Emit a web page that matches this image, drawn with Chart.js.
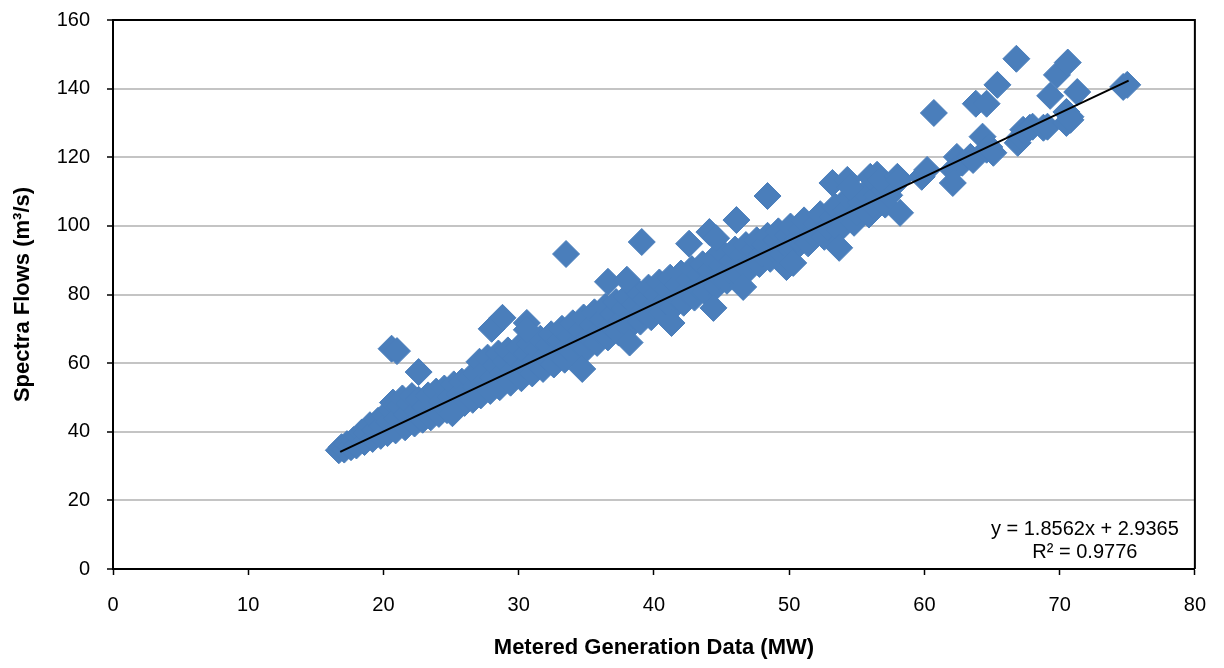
<!DOCTYPE html>
<html>
<head>
<meta charset="utf-8">
<title>Spectra Flows vs Metered Generation</title>
<script src="https://cdn.jsdelivr.net/npm/chart.js@4.4.1/dist/chart.umd.min.js"></script>
<style>
    body { margin: 0; background: #fff; }
    #wrap { width: 1224px; height: 668px; }
</style>
</head>
<body>
<div id="wrap"><canvas id="flowChart" width="1224" height="668"></canvas></div>
<script>
// Main cloud of readings (MW, m3/s)
const bandMW = [
    16.7, 16.9, 17.1, 17.3, 17.6, 17.8, 18.0, 18.2, 18.4, 18.6, 18.8, 19.0, 19.2, 19.4, 19.6, 19.8, 19.9, 20.1,
    20.3, 20.4, 20.6, 20.7, 20.9, 21.0, 21.2, 21.4, 21.6, 21.7, 21.9, 22.1, 22.3, 22.5, 22.6, 22.9, 23.1, 23.3,
    23.5, 23.7, 23.9, 24.1, 24.3, 24.5, 24.7, 24.9, 25.2, 25.4, 25.6, 25.8, 26.0, 26.2, 26.4, 26.6, 26.8, 26.9,
    27.1, 27.2, 27.4, 27.6, 27.7, 27.9, 28.1, 28.3, 28.5, 28.6, 28.8, 29.0, 29.2, 29.4, 29.6, 29.8, 30.0, 30.2,
    30.4, 30.6, 30.8, 31.0, 31.2, 31.4, 31.6, 31.8, 32.0, 32.2, 32.4, 32.6, 32.8, 33.0, 33.2, 33.4, 33.6, 33.8,
    34.0, 34.2, 34.4, 34.6, 34.8, 35.0, 35.2, 35.4, 35.6, 35.8, 36.0, 36.2, 36.4, 36.6, 36.8, 37.0, 37.2, 37.4,
    37.6, 37.8, 38.0, 38.2, 38.4, 38.6, 38.8, 39.0, 39.2, 39.4, 39.6, 39.8, 40.0, 40.2, 40.4, 40.6, 40.8, 41.0,
    41.2, 41.4, 41.6, 41.8, 42.0, 42.2, 42.4, 42.6, 42.8, 43.0, 43.2, 43.4, 43.6, 43.8, 44.0, 44.2, 44.4, 44.6,
    44.8, 45.0, 45.2, 45.4, 45.6, 45.8, 46.0, 46.2, 46.4, 46.6, 46.8, 47.0, 47.2, 47.4, 47.6, 47.8, 48.0, 48.2,
    48.4, 48.6, 48.8, 49.0, 49.2, 49.5, 49.7, 49.9, 50.1, 50.4, 50.6, 50.9, 51.1, 51.4, 51.7, 52.0, 52.3, 52.6,
    52.9, 53.2, 53.4, 53.7, 54.0, 54.2, 54.4, 54.8, 55.0, 55.3, 55.6, 55.9, 56.2, 56.5, 56.8, 57.1, 57.4, 57.7
];
const bandFlow = [
    34.6, 35.5, 34.8, 36.4, 35.5, 37.6, 36.0, 38.5, 39.8, 37.0, 39.6, 41.9, 37.9, 40.5, 43.2, 38.8, 41.6, 44.8,
    39.6, 42.8, 46.3, 48.5, 40.4, 44.1, 47.5, 49.7, 41.3, 45.0, 48.2, 50.4, 42.4, 46.1, 49.3, 43.5, 47.2, 50.6,
    44.2, 48.1, 51.7, 45.2, 48.9, 52.6, 46.3, 50.1, 53.8, 47.1, 50.9, 54.6, 48.4, 52.0, 55.7, 49.3, 53.1, 57.0,
    60.4, 50.6, 54.2, 58.1, 61.6, 51.9, 55.6, 59.4, 62.8, 53.0, 56.9, 60.5, 63.7, 54.3, 58.0, 61.6, 64.6, 55.6,
    59.3, 62.9, 65.8, 57.0, 60.6, 64.0, 67.1, 58.3, 61.9, 65.3, 68.4, 59.6, 63.2, 66.6, 70.0, 61.0, 64.5, 68.0,
    71.6, 62.4, 66.0, 69.5, 73.3, 64.2, 67.6, 71.1, 74.8, 65.9, 69.3, 72.7, 76.4, 67.5, 70.9, 74.3, 77.8, 68.9,
    72.4, 75.9, 79.4, 70.6, 73.9, 77.3, 80.8, 72.1, 75.3, 78.6, 82.0, 73.4, 76.7, 80.0, 83.5, 74.8, 78.1, 81.4,
    84.9, 76.2, 79.5, 82.8, 86.1, 77.6, 80.9, 84.2, 87.4, 79.1, 82.3, 85.6, 88.8, 80.7, 83.8, 87.0, 90.3, 82.3,
    85.4, 88.5, 91.7, 84.0, 87.0, 90.0, 93.1, 85.7, 88.6, 91.5, 94.4, 87.3, 90.2, 93.0, 95.8, 88.9, 91.7, 94.5,
    97.1, 90.4, 93.2, 95.9, 98.4, 91.8, 94.6, 97.3, 99.8, 93.3, 96.1, 98.9, 101.6, 94.9, 97.8, 100.6, 103.4, 96.8,
    99.7, 102.6, 105.6, 98.9, 101.8, 104.7, 108.3, 100.9, 103.9, 106.8, 109.6, 103.3, 106.1, 108.9, 111.2, 106.2, 108.9, 111.6
];

// Scattered readings away from the main cloud
const outlierMW = [
    20.6, 21.0, 22.6, 25.1, 28.0, 28.8, 30.6, 30.6, 33.5, 34.7, 36.6, 38.0, 38.2, 39.1, 41.3, 42.6, 44.1, 44.4,
    44.6, 46.1, 46.6, 48.4, 49.8, 50.3, 53.2, 53.7, 54.3, 54.5, 56.0, 56.5, 56.7, 58.0, 58.1, 58.2, 59.8, 60.2,
    60.7, 62.1, 62.1, 62.4, 62.8, 63.4, 63.6, 63.8, 64.3, 64.6, 64.6, 64.8, 65.1, 65.4, 66.8, 66.9, 67.1, 67.3,
    67.8, 68.0, 68.8, 69.1, 69.3, 69.8, 70.5, 70.5, 70.6, 70.8, 70.8, 71.3, 74.7, 75.0
];
const outlierFlow = [
    64.2, 63.5, 57.4, 45.4, 70.0, 73.2, 71.7, 69.7, 91.8, 58.3, 83.7, 84.3, 66.0, 95.3, 71.7, 94.8, 98.2, 76.1,
    96.4, 101.7, 82.2, 108.7, 88.0, 89.2, 112.5, 93.6, 113.4, 111.4, 114.3, 114.9, 113.4, 114.3, 113.4, 103.8, 114.3, 116.3,
    132.9, 116.3, 112.5, 120.1, 118.4, 120.1, 119.2, 135.6, 126.0, 135.6, 122.2, 123.0, 121.3, 141.1, 148.7, 124.2, 126.0, 128.0,
    128.6, 128.9, 128.6, 128.9, 137.9, 144.0, 133.2, 130.0, 147.6, 131.8, 130.9, 139.0, 140.5, 141.1
];

const xTicks = [0, 10, 20, 30, 40, 50, 60, 70, 80];
const yTicks = [0, 20, 40, 60, 80, 100, 120, 140, 160];

// Linear trendline as reported on the chart
const trendSlope = 1.8562;
const trendIntercept = 2.9365;
const trendR2 = 0.9776;
const trendFrom = 16.8;
const trendTo = 75.1;

const fontFamily = '"Liberation Sans", Arial, Helvetica, sans-serif';

document.addEventListener('DOMContentLoaded', function() {
    const points = [];
    bandMW.forEach((x, i) => points.push({ x: x, y: bandFlow[i] }));
    outlierMW.forEach((x, i) => points.push({ x: x, y: outlierFlow[i] }));

    const trendPoints = [trendFrom, trendTo].map(x => ({ x: x, y: trendSlope * x + trendIntercept }));

    // Frame on top/right plus the equation text
    const frameAndEquation = {
        id: 'frameAndEquation',
        afterDraw(chart) {
            const { ctx, chartArea: a } = chart;
            ctx.save();
            ctx.strokeStyle = '#000';
            ctx.lineWidth = 2;
            ctx.beginPath();
            ctx.moveTo(a.left, a.top);
            ctx.lineTo(a.right, a.top);
            ctx.lineTo(a.right, a.bottom);
            ctx.stroke();

            ctx.fillStyle = '#000';
            ctx.font = '20px ' + fontFamily;
            ctx.textAlign = 'center';
            ctx.textBaseline = 'middle';
            const cx = a.right - 110;
            ctx.fillText('y = ' + trendSlope.toFixed(4) + 'x + ' + trendIntercept.toFixed(4), cx, a.bottom - 40);
            ctx.fillText('R\u00b2 = ' + trendR2.toFixed(4), cx, a.bottom - 17);
            ctx.restore();
        }
    };

    Chart.defaults.color = '#000';
    Chart.defaults.font.family = fontFamily;

    new Chart(document.getElementById('flowChart'), {
        type: 'scatter',
        data: {
            datasets: [{
                label: 'Linear trend',
                data: trendPoints,
                showLine: true,
                borderColor: '#000',
                borderWidth: 2,
                pointRadius: 0,
                fill: false
            }, {
                label: 'Spectra Flows',
                data: points,
                pointStyle: 'rectRot',
                pointRadius: 13.5,
                backgroundColor: '#4a7ebb',
                borderColor: '#4a7ebb',
                borderWidth: 1
            }]
        },
        options: {
            responsive: false,
            animation: false,
            layout: { padding: { top: 20, right: 29, bottom: 0, left: 0 } },
            plugins: {
                legend: { display: false },
                tooltip: { enabled: false }
            },
            scales: {
                x: {
                    type: 'linear',
                    min: 0,
                    max: 80,
                    afterBuildTicks: axis => { axis.ticks = xTicks.map(v => ({ value: v })); },
                    afterFit: scale => { scale.height = 99; },
                    grid: {
                        drawOnChartArea: false,
                        drawTicks: true,
                        tickLength: 6,
                        tickColor: '#000',
                        tickWidth: 1.5
                    },
                    border: { display: true, color: '#000', width: 2 },
                    ticks: { font: { size: 20 }, padding: 18, maxRotation: 0 },
                    title: {
                        display: true,
                        text: 'Metered Generation Data (MW)',
                        font: { size: 22, weight: 'bold' },
                        padding: { top: 0, bottom: 7 }
                    }
                },
                y: {
                    type: 'linear',
                    min: 0,
                    max: 160,
                    afterBuildTicks: axis => { axis.ticks = yTicks.map(v => ({ value: v })); },
                    afterFit: scale => {
                        scale.width = 113;
                        scale.paddingTop = 0;
                        scale.paddingBottom = 0;
                    },
                    grid: {
                        color: '#c4c4c4',
                        lineWidth: 2,
                        drawTicks: true,
                        tickLength: 6,
                        tickColor: '#000',
                        tickWidth: 1.5
                    },
                    border: { display: true, color: '#000', width: 2 },
                    ticks: { font: { size: 20 }, padding: 17 },
                    title: {
                        display: true,
                        text: 'Spectra Flows (m\u00b3/s)',
                        font: { size: 22, weight: 'bold' },
                        padding: { top: 10, bottom: 0 }
                    }
                }
            }
        },
        plugins: [frameAndEquation]
    });
});
</script>
</body>
</html>
